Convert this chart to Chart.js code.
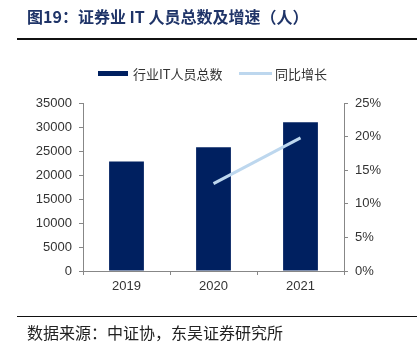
<!DOCTYPE html>
<html>
<head>
<meta charset="utf-8">
<script src="https://cdn.jsdelivr.net/npm/chart.js@4"></script>
<style>
  html, body { margin: 0; padding: 0; background: #fff; }
  canvas { display: block; }
</style>
</head>
<body>
<canvas id="myChart" width="417" height="350"></canvas>
<script>
// chart data
const years = ['2019', '2020', '2021'];
const itStaff = [22800, 25800, 31000];
const yoyGrowth = [null, 13.0, 19.8];
const staffTicks = [0, 5000, 10000, 15000, 20000, 25000, 30000, 35000];
const growthTicks = [0, 5, 10, 15, 20, 25];

const titleText = '图19：证券业 IT 人员总数及增速（人）';
const sourceText = '数据来源：中证协，东吴证券研究所';

const axisGrey = '#878787';
const cjk = '"Noto Sans CJK SC", "Noto Sans", sans-serif';

// title, rules, footer and legend drawn around the chart
const decorations = {
    id: 'decorations',
    afterDraw(chart) {
        const ctx = chart.ctx;
        ctx.save();

        // title
        ctx.fillStyle = '#1f3468';
        ctx.font = 'bold 16px ' + cjk;
        ctx.textBaseline = 'middle';
        ctx.textAlign = 'left';
        ctx.fillText(titleText, 27, 17);

        // rule under the title
        ctx.fillStyle = '#111';
        ctx.fillRect(17, 38, 400, 2);

        // rule above the source line
        ctx.fillRect(17, 316, 400, 1);

        // source
        ctx.fillStyle = '#222';
        ctx.font = '16px ' + cjk;
        ctx.fillText(sourceText, 27, 333);

        // legend
        const ds = chart.data.datasets;
        ctx.font = '13px ' + cjk;
        ctx.fillStyle = ds[0].backgroundColor;
        ctx.fillRect(98, 71, 30, 5);
        ctx.fillStyle = '#333';
        ctx.fillText(ds[0].label, 133, 74);

        ctx.fillStyle = ds[1].borderColor;
        ctx.fillRect(239, 72, 33, 3);
        ctx.fillStyle = '#333';
        ctx.fillText(ds[1].label, 275, 74);

        ctx.restore();
    }
};

Chart.defaults.font.family = '"Liberation Sans", Arial, sans-serif';
Chart.defaults.font.size = 13;
Chart.defaults.color = '#333';

const ctx = document.getElementById('myChart').getContext('2d');
const myChart = new Chart(ctx, {
    type: 'bar',
    data: {
        labels: years,
        datasets: [
            {
                label: '行业IT人员总数',
                data: itStaff,
                backgroundColor: '#002060',
                borderWidth: 0,
                categoryPercentage: 0.8,
                barPercentage: 0.5,
                yAxisID: 'y',
                order: 1
            },
            {
                type: 'line',
                label: '同比增长',
                data: yoyGrowth,
                borderColor: '#bdd7ee',
                backgroundColor: '#bdd7ee',
                borderWidth: 3,
                pointRadius: 0,
                tension: 0,
                yAxisID: 'y1',
                order: 0
            }
        ]
    },
    options: {
        responsive: false,
        animation: false,
        layout: { padding: { top: 103, left: 0, right: 0, bottom: 0 } },
        plugins: {
            legend: { display: false },
            title: { display: false },
            tooltip: { enabled: false }
        },
        scales: {
            x: {
                offset: true,
                grid: {
                    offset: true,
                    drawOnChartArea: false,
                    drawTicks: true,
                    tickLength: 4,
                    color: axisGrey
                },
                border: { color: axisGrey, width: 1 },
                ticks: { padding: 4, color: '#333' },
                afterFit(scale) { scale.height = 79; }
            },
            y: {
                position: 'left',
                min: 0,
                max: 35000,
                afterBuildTicks(scale) { scale.ticks = staffTicks.map(v => ({ value: v })); },
                grid: { drawOnChartArea: false, drawTicks: true, tickLength: 4, color: axisGrey },
                border: { color: axisGrey, width: 1 },
                ticks: { padding: 7, color: '#333', callback: v => String(v) },
                afterFit(scale) { scale.width = 83; }
            },
            y1: {
                position: 'right',
                min: 0,
                max: 25,
                afterBuildTicks(scale) { scale.ticks = growthTicks.map(v => ({ value: v })); },
                grid: { drawOnChartArea: false, drawTicks: true, tickLength: 4, color: axisGrey },
                border: { color: axisGrey, width: 1 },
                ticks: { padding: 7, color: '#333', callback: v => v + '%' },
                afterFit(scale) { scale.width = 73; }
            }
        }
    },
    plugins: [decorations]
});
</script>
</body>
</html>
